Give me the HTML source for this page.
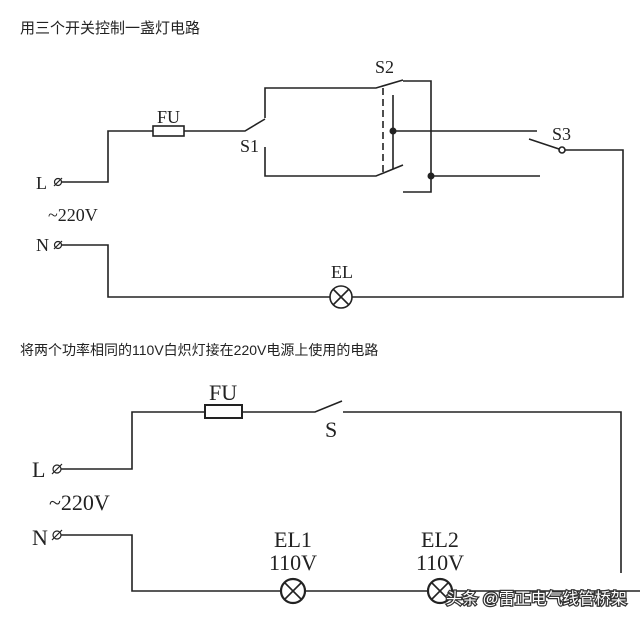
<!DOCTYPE html>
<html><head><meta charset="utf-8"><style>
html,body{margin:0;padding:0;background:#fff;width:640px;height:619px;overflow:hidden}
svg{display:block}
.t{font-family:"Liberation Sans","Noto Sans CJK SC",sans-serif;font-size:14px;fill:#222}
.s{font-family:"Liberation Serif",serif;font-size:18px;fill:#222}
.b{font-size:22px}
</style></head><body>
<svg width="640" height="619" viewBox="0 0 640 619" xmlns="http://www.w3.org/2000/svg">
<text class="t" x="20" y="33" style="font-size:15px">用三个开关控制一盏灯电路</text>
<text class="t" x="20" y="355">将两个功率相同的110V白炽灯接在220V电源上使用的电路</text>
<g stroke="#222" stroke-width="1.6" fill="none">
<polyline points="61,182 108,182 108,131 153,131"/>
<rect x="153" y="126" width="31" height="10"/>
<polyline points="184,131 245,131 265,119"/>
<polyline points="265,118 265,88 376,88 403,80"/>
<polyline points="265,147 265,176 376,176 403,165"/>
<line x1="383" y1="88" x2="383" y2="176" stroke-dasharray="7,4"/>
<line x1="393" y1="95" x2="393" y2="169"/>
<line x1="393" y1="131" x2="537" y2="131"/>
<polyline points="403,81 431,81 431,192 403,192"/>
<line x1="431" y1="176" x2="540" y2="176"/>
<line x1="529" y1="139" x2="559" y2="149"/>
<circle cx="562" cy="150" r="3"/>
<polyline points="565,150 623,150 623,297 352,297"/>
<polyline points="61,245 108,245 108,297 330,297"/>
<circle cx="341" cy="297" r="11"/>
<line x1="333" y1="289" x2="349" y2="305"/><line x1="349" y1="289" x2="333" y2="305"/>
<polyline points="61,469 132,469 132,412 205,412"/>
<rect x="205" y="405" width="37" height="13" stroke-width="2"/>
<polyline points="242,412 315,412 342,401"/>
<polyline points="343,412 621,412 621,573"/>
<polyline points="61,535 132,535 132,591 281,591"/>
<circle cx="293" cy="591" r="12" stroke-width="2.2"/>
<line x1="284" y1="582" x2="302" y2="600"/><line x1="302" y1="582" x2="284" y2="600"/>
<line x1="305" y1="591" x2="428" y2="591"/>
<circle cx="440" cy="591" r="12" stroke-width="2.2"/>
<line x1="431" y1="582" x2="449" y2="600"/><line x1="449" y1="582" x2="431" y2="600"/>
<line x1="452" y1="591" x2="640" y2="591"/>
</g>
<g fill="#222">
<circle cx="393" cy="131" r="3.5"/><circle cx="431" cy="176" r="3.5"/>
</g>
<g stroke="#222" stroke-width="1.2" fill="none">
<circle cx="58" cy="182" r="3.5"/><line x1="54" y1="186" x2="62" y2="178"/>
<circle cx="58" cy="245" r="3.5"/><line x1="54" y1="249" x2="62" y2="241"/>
<circle cx="57" cy="469" r="4"/><line x1="52" y1="474" x2="62" y2="464"/>
<circle cx="57" cy="535" r="4"/><line x1="52" y1="540" x2="62" y2="530"/>
</g>
<text class="s" x="36" y="189">L</text>
<text class="s" x="48" y="221">~220V</text>
<text class="s" x="36" y="251">N</text>
<text class="s" x="157" y="123">FU</text>
<text class="s" x="240" y="152">S1</text>
<text class="s" x="375" y="73">S2</text>
<text class="s" x="552" y="140">S3</text>
<text class="s" x="331" y="278">EL</text>
<text class="s b" x="32" y="477">L</text>
<text class="s b" x="49" y="510">~220V</text>
<text class="s b" x="32" y="545">N</text>
<text class="s b" x="209" y="400">FU</text>
<text class="s b" x="325" y="437">S</text>
<text class="s b" x="293" y="547" text-anchor="middle">EL1</text>
<text class="s b" x="293" y="570" text-anchor="middle">110V</text>
<text class="s b" x="440" y="547" text-anchor="middle">EL2</text>
<text class="s b" x="440" y="570" text-anchor="middle">110V</text>
<text x="446" y="604" style="font-family:'Liberation Sans','Noto Sans CJK SC',sans-serif;font-size:16px;fill:#fff;stroke:#333;stroke-width:2.5;paint-order:stroke">头条 @雷正电气线管桥架</text>
</svg>
</body></html>
